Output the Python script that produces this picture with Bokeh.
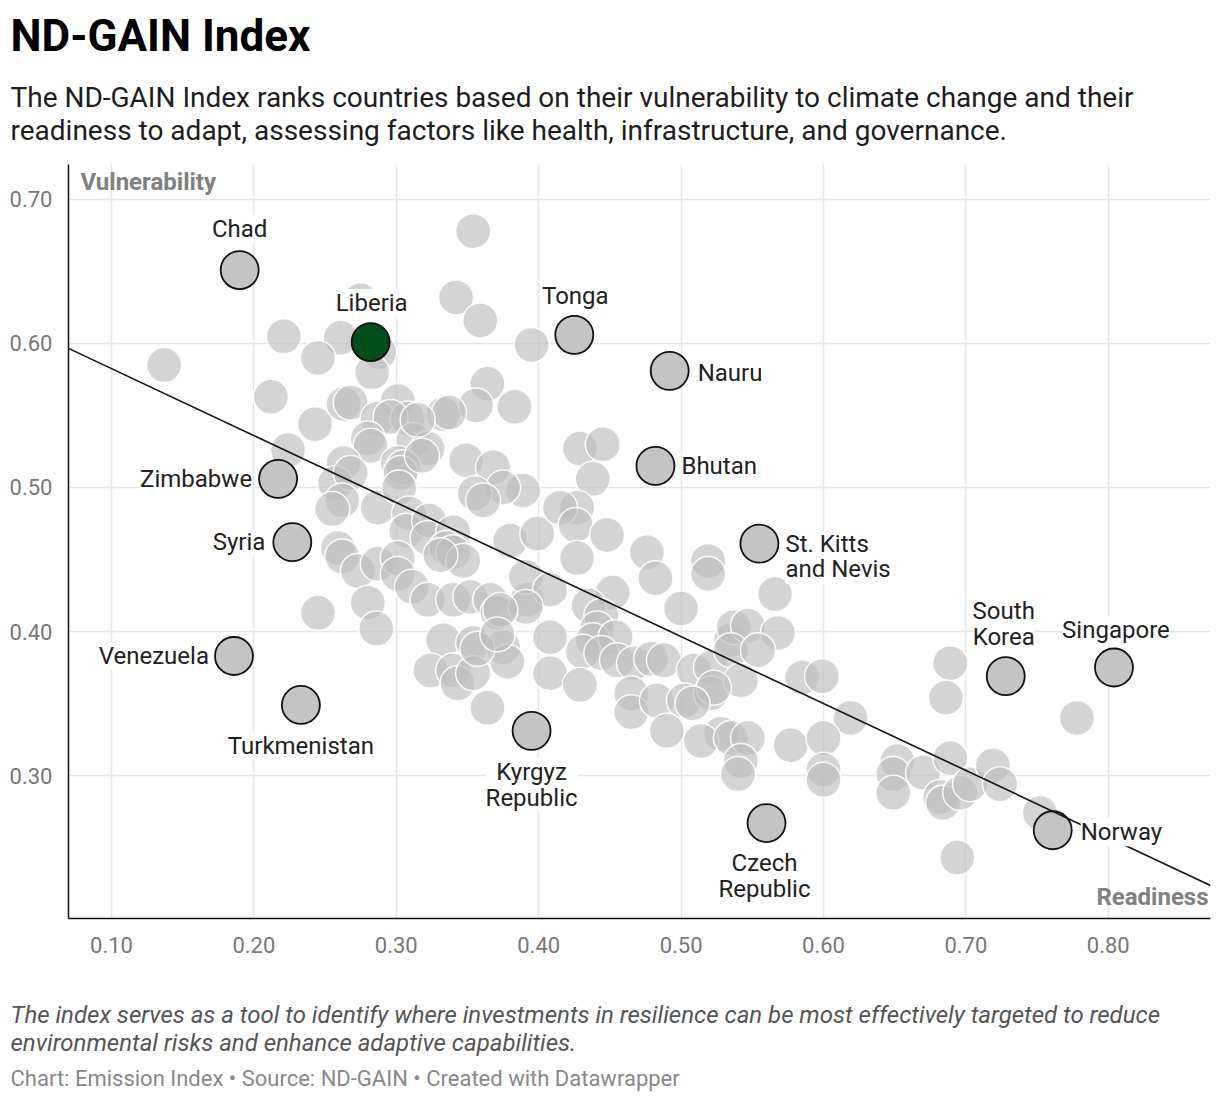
from bokeh.plotting import figure
from bokeh.layouts import column
from bokeh.models import Label, Range1d, FixedTicker, NumeralTickFormatter
from bokeh.embed import file_html
from bokeh.resources import INLINE

# ---------------- data ----------------
readiness = [
    0.354, 0.342, 0.359, 0.395, 0.137, 0.221, 0.261, 0.245, 0.275, 0.288,
    0.283, 0.212, 0.243, 0.263, 0.268, 0.301, 0.287, 0.308, 0.296, 0.280,
    0.282, 0.312, 0.322, 0.333, 0.224, 0.263, 0.301, 0.364, 0.356, 0.337,
    0.383, 0.429, 0.445, 0.438, 0.427, 0.349, 0.368, 0.389, 0.375, 0.355,
    0.361, 0.315, 0.305, 0.257, 0.268, 0.262, 0.255, 0.287, 0.303, 0.302,
    0.318, 0.309, 0.307, 0.323, 0.322, 0.340, 0.335, 0.340, 0.347, 0.331,
    0.259, 0.262, 0.273, 0.287, 0.301, 0.301, 0.311, 0.280, 0.286, 0.245,
    0.322, 0.340, 0.352, 0.366, 0.371, 0.392, 0.380, 0.399, 0.391, 0.408,
    0.333, 0.354, 0.375, 0.378, 0.324, 0.340, 0.343, 0.354, 0.408, 0.408,
    0.415, 0.426, 0.427, 0.448, 0.476, 0.482, 0.519, 0.519, 0.500, 0.391,
    0.452, 0.435, 0.444, 0.441, 0.438, 0.454, 0.431, 0.444, 0.455, 0.467,
    0.479, 0.488, 0.509, 0.521, 0.429, 0.465, 0.465, 0.483, 0.502, 0.490,
    0.521, 0.528, 0.514, 0.364, 0.357, 0.373, 0.371, 0.535, 0.537, 0.566,
    0.547, 0.568, 0.535, 0.554, 0.542, 0.523, 0.508, 0.585, 0.599, 0.619,
    0.577, 0.600, 0.600, 0.600, 0.535, 0.547, 0.542, 0.540, 0.652, 0.649,
    0.689, 0.686, 0.778, 0.649, 0.670, 0.689, 0.682, 0.684, 0.696, 0.703,
    0.719, 0.724, 0.752, 0.694,
]
vulnerability = [
    0.678, 0.632, 0.616, 0.599, 0.585, 0.605, 0.604, 0.590, 0.630, 0.594,
    0.580, 0.563, 0.544, 0.558, 0.559, 0.560, 0.548, 0.548, 0.549, 0.534,
    0.529, 0.533, 0.527, 0.551, 0.526, 0.517, 0.517, 0.572, 0.557, 0.552,
    0.556, 0.527, 0.530, 0.506, 0.486, 0.519, 0.514, 0.498, 0.500, 0.496,
    0.491, 0.547, 0.514, 0.503, 0.510, 0.491, 0.485, 0.486, 0.510, 0.500,
    0.522, 0.482, 0.470, 0.477, 0.465, 0.469, 0.458, 0.455, 0.449, 0.453,
    0.458, 0.452, 0.442, 0.447, 0.451, 0.440, 0.431, 0.420, 0.402, 0.413,
    0.422, 0.422, 0.424, 0.422, 0.413, 0.422, 0.463, 0.468, 0.438, 0.429,
    0.394, 0.392, 0.389, 0.379, 0.373, 0.373, 0.364, 0.371, 0.396, 0.371,
    0.486, 0.474, 0.451, 0.467, 0.455, 0.437, 0.449, 0.440, 0.416, 0.417,
    0.427, 0.418, 0.411, 0.402, 0.394, 0.396, 0.386, 0.385, 0.380, 0.378,
    0.381, 0.380, 0.373, 0.375, 0.363, 0.357, 0.344, 0.352, 0.352, 0.331,
    0.357, 0.329, 0.324, 0.347, 0.388, 0.415, 0.398, 0.394, 0.403, 0.426,
    0.404, 0.399, 0.387, 0.387, 0.366, 0.361, 0.350, 0.368, 0.369, 0.340,
    0.321, 0.326, 0.304, 0.297, 0.326, 0.326, 0.310, 0.301, 0.310, 0.301,
    0.378, 0.354, 0.340, 0.288, 0.302, 0.312, 0.285, 0.281, 0.288, 0.294,
    0.307, 0.294, 0.274, 0.243,
]

names = ["Chad", "Liberia", "Tonga", "Nauru", "Bhutan", "Zimbabwe", "Syria",
         "St. Kitts\nand Nevis", "Venezuela", "Turkmenistan", "Kyrgyz\nRepublic",
         "Czech\nRepublic", "South\nKorea", "Singapore", "Norway"]
named_readiness = [0.190, 0.282, 0.425, 0.492, 0.482, 0.217, 0.227, 0.555,
                   0.186, 0.233, 0.395, 0.560, 0.728, 0.804, 0.761]
named_vulnerability = [0.651, 0.601, 0.606, 0.581, 0.515, 0.506, 0.462, 0.461,
                       0.383, 0.349, 0.331, 0.267, 0.369, 0.375, 0.262]
highlight = "Liberia"

trend_readiness = [0.0698, 0.8718]
trend_vulnerability = [0.5966, 0.2236]

x_ticks = [0.1, 0.2, 0.3, 0.4, 0.5, 0.6, 0.7, 0.8]
y_ticks = [0.3, 0.4, 0.5, 0.6, 0.7]

title = "ND-GAIN Index"
subtitle = ["The ND-GAIN Index ranks countries based on their vulnerability to climate change and their",
            "readiness to adapt, assessing factors like health, infrastructure, and governance."]
note = ["The index serves as a tool to identify where investments in resilience can be most effectively targeted to reduce",
        "environmental risks and enhance adaptive capabilities."]
source = "Chart: Emission Index \u2022 Source: ND-GAIN \u2022 Created with Datawrapper"

# ---------------- styles ----------------
FONT = "Roboto"
# label placement: (align, dx px, dy px up)
label_place = {
    "Chad": ("center", 0, 41), "Liberia": ("center", 1, 39), "Tonga": ("center", 1, 39),
    "Nauru": ("left", 28, -2), "Bhutan": ("left", 26, 0), "Zimbabwe": ("right", -26, 0),
    "Syria": ("right", -27, 0), "St. Kitts\nand Nevis": ("left", 26, -13),
    "Venezuela": ("right", -25, 0), "Turkmenistan": ("center", 0, -41),
    "Kyrgyz\nRepublic": ("center", 0, -54), "Czech\nRepublic": ("center", -2, -53),
    "South\nKorea": ("center", -2, 52), "Singapore": ("center", 2, 38),
    "Norway": ("left", 28, -2),
}

W = 1212
HEAD_H, MAIN_H, FOOT_H = 156, 834, 110
X0, X1 = 0.0698, 0.8718
Y0, Y1 = 0.2007, 0.7243
FL, FR, FT = 68, 2, 8
FB = MAIN_H - FT - 754
fw, fh = W - FL - FR, 754


def px_x(px):
    return X0 + (px - FL) / fw * (X1 - X0)


def px_y(py):
    # page pixel -> data y (main figure starts at page y = HEAD_H)
    return Y1 - (py - HEAD_H - FT) / fh * (Y1 - Y0)


def text_fig(h):
    f = figure(width=W, height=h, x_range=Range1d(0, W), y_range=Range1d(h, 0),
               output_backend="svg", toolbar_location=None,
               x_axis_type=None, y_axis_type=None,
               min_border_left=0, min_border_right=0, min_border_top=0, min_border_bottom=0)
    f.outline_line_color = None
    f.grid.visible = False
    f.frame_align = False
    return f


# ---------------- header ----------------
head = text_fig(HEAD_H)
head.add_layout(Label(x=10, y=35, text=title, text_font=FONT, text_font_size="44px",
                      text_font_style="bold", text_color="#000000", text_baseline="middle"))
for i, line in enumerate(subtitle):
    head.add_layout(Label(x=10, y=97 + 33 * i, text=line, text_font=FONT,
                          text_font_size="28px", text_color="#1d1d1d",
                          text_baseline="middle"))

# ---------------- main plot ----------------
p = figure(width=W, height=MAIN_H, x_range=Range1d(X0, X1), y_range=Range1d(Y0, Y1),
           output_backend="svg", toolbar_location=None,
           min_border_left=FL, min_border_right=FR, min_border_top=FT,
           min_border_bottom=FB)
p.outline_line_color = None
p.frame_align = False

for ax, ticks in ((p.xaxis, x_ticks), (p.yaxis, y_ticks)):
    ax.ticker = FixedTicker(ticks=ticks)
    ax.formatter = NumeralTickFormatter(format="0.00")
    ax.major_tick_line_color = None
    ax.minor_tick_line_color = None
    ax.axis_line_color = "#111111"
    ax.axis_line_width = 1.5
    ax.major_label_text_font = FONT
    ax.major_label_text_font_size = "22px"
    ax.major_label_text_color = "#777777"
p.xaxis.major_label_standoff = 12
p.yaxis.major_label_standoff = 10

p.xgrid.ticker = FixedTicker(ticks=x_ticks)
p.ygrid.ticker = FixedTicker(ticks=y_ticks)
p.grid.grid_line_color = "#e6e6e6"
p.grid.grid_line_width = 1.5

p.scatter(readiness, vulnerability, size=35, fill_color="#bdbdbd", fill_alpha=0.65,
          line_color="white", line_width=1.5, line_alpha=0.9)

colors = ["#064b1c" if n == highlight else "#c4c4c4" for n in names]
p.scatter(named_readiness, named_vulnerability, size=38, fill_color=colors,
          line_color="#111111", line_width=1.8)

p.line(trend_readiness, trend_vulnerability, line_color="#111111", line_width=1.6)

for n, x, y in zip(names, named_readiness, named_vulnerability):
    align, dx, dy = label_place[n]
    p.add_layout(Label(x=x, y=y, text=n, x_offset=dx, y_offset=dy, text_align=align,
                       text_baseline="middle", text_font=FONT, text_font_size="24px",
                       text_color="#222222", background_fill_color="white",
                       background_fill_alpha=1.0, text_line_height=0.91))

p.add_layout(Label(x=px_x(80), y=px_y(181), text="Vulnerability", text_font=FONT,
                   text_font_size="24px", text_font_style="bold", text_color="#808080",
                   text_baseline="middle", text_align="left"))
p.add_layout(Label(x=px_x(1208), y=px_y(896), text="Readiness", text_font=FONT,
                   text_font_size="24px", text_font_style="bold", text_color="#808080",
                   text_baseline="middle", text_align="right"))

# ---------------- footer ----------------
foot = text_fig(FOOT_H)
for i, line in enumerate(note):
    foot.add_layout(Label(x=10, y=24 + 28 * i, text=line, text_font=FONT,
                          text_font_size="24px", text_font_style="italic",
                          text_color="#555555", text_baseline="middle"))
foot.add_layout(Label(x=10, y=88, text=source, text_font=FONT, text_font_size="22px",
                      text_color="#888888", text_baseline="middle"))

layout = column(head, p, foot, spacing=0)
open("out.html", "w").write(file_html(layout, INLINE))
